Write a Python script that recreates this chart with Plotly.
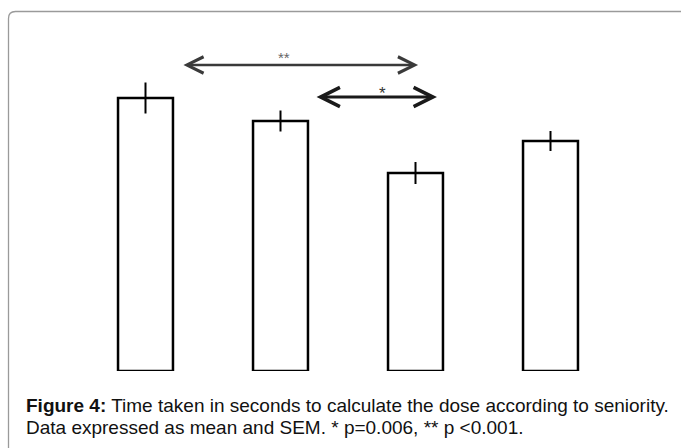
import plotly.graph_objects as go

# ---- data (arbitrary units, no axis shown) ----
groups = ["Group 1", "Group 2", "Group 3", "Group 4"]
means = [273, 250, 198, 230]
sem = [15.5, 10.5, 11, 10]

# significance brackets: (from group position, to group position, height, label)
sig_from = [0.27, 1.256]
sig_to = [2.019, 2.159]
sig_y = [306, 274]
sig_labels = ["**", "*"]
sig_label_x = [1.026, 1.752]
sig_label_y = [314, 278]

caption_1 = "<b>Figure 4:</b> Time taken in seconds to calculate the dose according to seniority."
caption_2 = "Data expressed as mean and SEM. * p=0.006, ** p <0.001."

W, H = 681, 448
L, R, T, B = 78, 63, 11, 77
pw, ph = W - L - R, H - T - B


def px_x(px):
    return (px - L) / pw


def px_y(py):
    return (H - B - py) / ph


fig = go.Figure()
fig.add_trace(go.Bar(
    x=list(range(len(groups))),
    y=means,
    marker=dict(color="white", line=dict(color="black", width=2.5)),
    error_y=dict(type="data", array=sem, visible=True, color="black",
                 thickness=2, width=0),
    width=0.407,
    hoverinfo="skip",
))

annotations = []
arrow_colors = ["#3a3a3a", "#1a1a1a"]
arrow_widths = [2.5, 2.9]
arrow_sizes = [1.3, 1.3]
label_sizes = [15, 17]
label_colors = ["#666666", "#333333"]
for i in range(len(sig_labels)):
    annotations.append(dict(
        x=sig_to[i], y=sig_y[i], ax=sig_from[i], ay=sig_y[i],
        xref="x", yref="y", axref="x", ayref="y",
        text="", showarrow=True, arrowhead=5, startarrowhead=5,
        arrowside="end+start", arrowsize=arrow_sizes[i],
        startarrowsize=arrow_sizes[i],
        arrowwidth=arrow_widths[i], arrowcolor=arrow_colors[i],
        standoff=0, startstandoff=0,
    ))
    annotations.append(dict(
        x=sig_label_x[i], y=sig_label_y[i], xref="x", yref="y",
        text=sig_labels[i], showarrow=False,
        font=dict(family="Liberation Sans, Arial, sans-serif",
                  size=label_sizes[i], color=label_colors[i]),
    ))

cap_font = dict(family="Liberation Sans, Arial, sans-serif", size=19, color="#111")
annotations.append(dict(x=px_x(24), y=px_y(405), xref="paper", yref="paper",
                        xanchor="left", yanchor="middle", showarrow=False,
                        text=caption_1, font=cap_font, align="left"))
annotations.append(dict(x=px_x(24), y=px_y(428), xref="paper", yref="paper",
                        xanchor="left", yanchor="middle", showarrow=False,
                        text=caption_2, font=cap_font, align="left"))

x0, yt = px_x(8.5), px_y(11.5)
xr, yb = px_x(700), px_y(470)
dx, dy = 7 / pw, 7 / ph
border = dict(
    type="path", xref="paper", yref="paper",
    path=f"M{x0},{yb} L{x0},{yt - dy} Q{x0},{yt} {x0 + dx},{yt} L{xr},{yt}",
    line=dict(color="#9a9a9a", width=1.3),
)

fig.update_layout(
    width=W, height=H,
    margin=dict(l=L, r=R, t=T, b=B),
    paper_bgcolor="white", plot_bgcolor="white",
    showlegend=False,
    hovermode=False,
    xaxis=dict(range=[-0.5, 3.5], visible=False),
    yaxis=dict(range=[0, 360], visible=False),
    annotations=annotations,
    shapes=[border],
)

fig.write_html("out.html",
               config={"displayModeBar": False},
               post_script="document.body.style.margin='0px';"
                           "document.body.style.overflow='hidden';")
